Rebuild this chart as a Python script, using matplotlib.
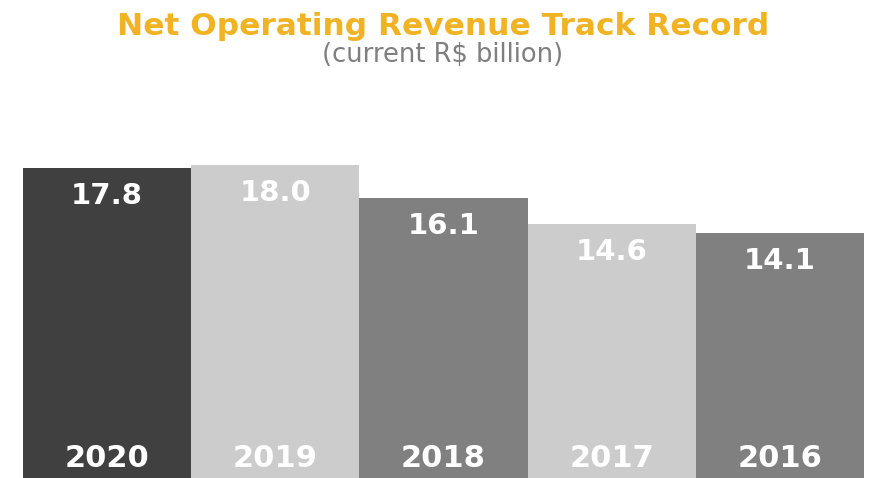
import matplotlib.pyplot as plt

# Receita operacional líquida por ano (R$ bilhões correntes)
years = ['2020', '2019', '2018', '2017', '2016']
revenue = [17.8, 18.0, 16.1, 14.6, 14.1]
bar_colors = ['#404040', '#CCCCCC', '#808080', '#CCCCCC', '#808080']

fig = plt.figure(figsize=(8.7, 4.78), dpi=100)
ax = fig.add_axes([23 / 870, 0.0, (864 - 23) / 870, (478 - 165) / 478])

x = range(len(years))
ax.bar(x, revenue, width=1.0, color=bar_colors, linewidth=0)
ax.set_xlim(-0.5, len(years) - 0.5)
ax.set_ylim(0, max(revenue))
ax.axis('off')

# valores dentro das barras, anos na base
for i, v in enumerate(revenue):
    ax.annotate(f'{v:.1f}', (i, v), xytext=(0, -20), textcoords='offset points',
                ha='center', va='center', color='white', fontsize=21,
                fontweight='bold')
    ax.annotate(years[i], (i, 0), xytext=(0, 14), textcoords='offset points',
                ha='center', va='center', color='white', fontsize=22,
                fontweight='bold')

fig.text(0.509, 0.945, 'Net Operating Revenue Track Record', ha='center',
         va='center', color='#F0B323', fontsize=22.5, fontweight='bold')
fig.text(0.509, 0.885, '(current R$ billion)', ha='center', va='center',
         color='#7F7F7F', fontsize=18.5)

fig.savefig('out.png', dpi=100)
